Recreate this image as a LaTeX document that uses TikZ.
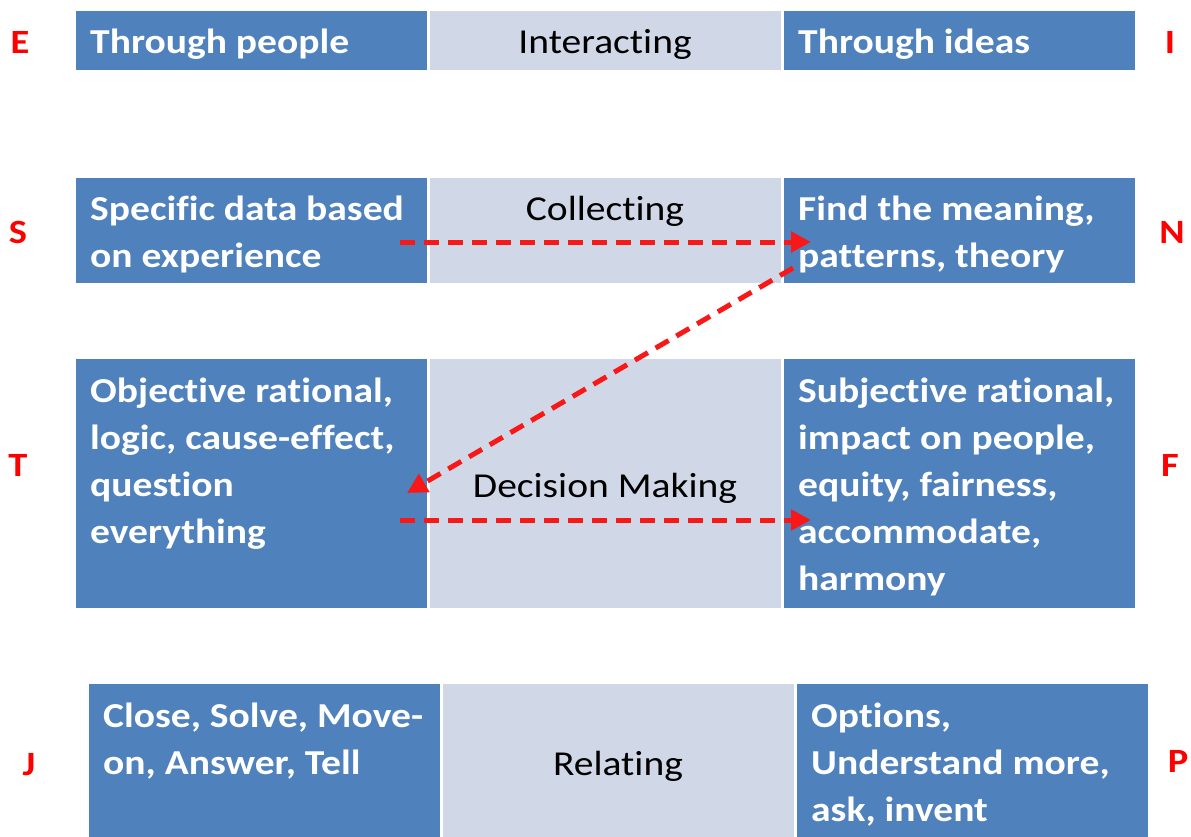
\documentclass[tikz,border=0pt]{standalone}
\usepackage{fontspec}
\setmainfont{Carlito}[FakeStretch=1.13, Ligatures=NoCommon]
\usetikzlibrary{arrows.meta}
\definecolor{cellblue}{HTML}{4F81BD}
\definecolor{celllight}{HTML}{D0D8E8}
\definecolor{lettred}{HTML}{FF0000}
\definecolor{arrowred}{HTML}{F81818}
\newcommand{\cellrows}[1]{\begin{tabular}[t]{@{}l@{}}#1\end{tabular}}
\tikzset{
  bluecell/.style={draw=white, line width=1.2pt, fill=cellblue, inner sep=0pt, anchor=north west},
  lightcell/.style={draw=white, line width=1.2pt, fill=celllight, inner sep=0pt, anchor=north west},
  celltext/.style={text=white, font=\fontsize{35}{47}\selectfont\bfseries, inner sep=0pt, anchor=base west},
  midtext/.style={text=black, font=\fontsize{35}{47}\selectfont, inner sep=0pt, anchor=base},
  letter/.style={text=lettred, font=\fontsize{34}{40}\selectfont\bfseries, inner sep=0pt, anchor=base},
  flow/.style={draw=arrowred, line width=5pt, dash pattern=on 15pt off 9pt,
    -{Triangle[length=20pt, width=20pt]}},
}
\begin{document}
\begin{tikzpicture}[x=1pt, y=-1pt]
\clip (0,0) rectangle (1191,836);
\fill[white] (0,0) rectangle (1191,836);

% ---- row 1: interacting ----
\node[bluecell, minimum width=352pt, minimum height=60pt] (c1l) at (75,10) {};
\node[lightcell, minimum width=352pt, minimum height=60pt] (c1m) at (429,10) {};
\node[bluecell, minimum width=352pt, minimum height=60pt] (c1r) at (783,10) {};
\node[celltext] (t1l) at (90,53) {Through people};
\node[midtext] (t1m) at (605,53) {Interacting};
\node[celltext] (t1r) at (798,53) {Through ideas};
\node[letter] (lE) at (20,53) {E};
\node[letter] (lI) at (1170,53) {I};

% ---- row 2: collecting ----
\node[bluecell, minimum width=352pt, minimum height=106pt] (c2l) at (75,177) {};
\node[lightcell, minimum width=352pt, minimum height=106pt] (c2m) at (429,177) {};
\node[bluecell, minimum width=352pt, minimum height=106pt] (c2r) at (783,177) {};
\node[celltext] (t2l) at (90,220) {\cellrows{Specific data based\\on experience}};
\node[midtext] (t2m) at (605,220) {Collecting};
\node[celltext] (t2r) at (798,220) {\cellrows{Find the meaning,\\patterns, theory}};
\node[letter] (lS) at (18,243) {S};
\node[letter] (lN) at (1172,243) {N};

% ---- row 3: decision making ----
\node[bluecell, minimum width=352pt, minimum height=250pt] (c3l) at (75,358) {};
\node[lightcell, minimum width=352pt, minimum height=250pt] (c3m) at (429,358) {};
\node[bluecell, minimum width=352pt, minimum height=250pt] (c3r) at (783,358) {};
\node[celltext] (t3l) at (90,402) {\cellrows{Objective rational,\\logic, cause-effect,\\question\\everything}};
\node[midtext] (t3m) at (605,497) {Decision Making};
\node[celltext] (t3r) at (798,402) {\cellrows{Subjective rational,\\impact on people,\\equity, fairness,\\accommodate,\\harmony}};
\node[letter] (lT) at (18,476) {T};
\node[letter] (lF) at (1170,476) {F};

% ---- row 4: relating ----
\node[bluecell, minimum width=352pt, minimum height=170pt] (c4l) at (88,683) {};
\node[lightcell, minimum width=352pt, minimum height=170pt] (c4m) at (442,683) {};
\node[bluecell, minimum width=352pt, minimum height=170pt] (c4r) at (796,683) {};
\node[celltext] (t4l) at (103,727) {\cellrows{Close, Solve, Move-\\on, Answer, Tell}};
\node[midtext] (t4m) at (618,775) {Relating};
\node[celltext] (t4r) at (811,727) {\cellrows{Options,\\Understand more,\\ask, invent}};
\node[letter] (lJ) at (29,775) {J};
\node[letter] (lP) at (1178,772) {P};

% ---- flow arrows between the cells ----
\coordinate (sFrom) at (400,242);
\coordinate (nTo) at (811,242);
\coordinate (nFrom) at (793,268);
\coordinate (tTo) at (407,493);
\coordinate (tFrom) at (400,520);
\coordinate (fTo) at (811,520);
\draw[flow] (sFrom) -- (nTo);
\draw[flow] (nFrom) -- (tTo);
\draw[flow] (tFrom) -- (fTo);
\end{tikzpicture}
\end{document}
